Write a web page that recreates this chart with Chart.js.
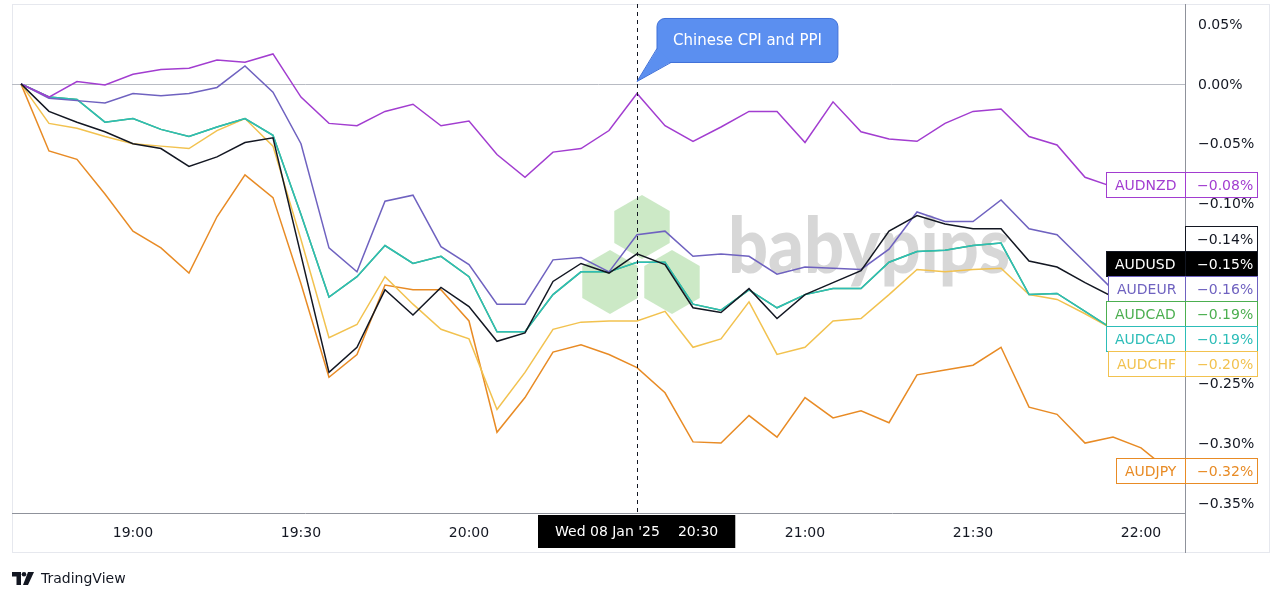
<!DOCTYPE html>
<html>
<head>
<meta charset="utf-8">
<script src="https://cdn.jsdelivr.net/npm/chart.js@4.4.1/dist/chart.umd.min.js"></script>
<style>
  html, body { margin: 0; padding: 0; background: #fff; }
  #wrap { position: relative; width: 1280px; height: 600px; overflow: hidden; }
  #footer { position: absolute; left: 12px; top: 568px; height: 20px; display: flex; align-items: center;
            font: 14px "DejaVu Sans", sans-serif; color: #131722; }
  #footer svg { margin-right: 5px; }
</style>
</head>
<body>
<div id="wrap">
  <canvas id="chart" width="1280" height="600"></canvas>
  <div id="footer">
    <svg width="24" height="13" viewBox="0 0 24 13"><path d="M0 0h9v13h-4.5v-8.5h-4.5z" fill="#131722"/><circle cx="12" cy="2.3" r="2.3" fill="#131722"/><path d="M16 0h6l-6 13h-5z" fill="#131722"/></svg>
    <span>TradingView</span>
  </div>
</div>
<script>
// 5-minute bars, 08 Jan 2025
const times = ['18:40','18:45','18:50','18:55','19:00','19:05','19:10','19:15','19:20','19:25',
  '19:30','19:35','19:40','19:45','19:50','19:55','20:00','20:05','20:10','20:15',
  '20:20','20:25','20:30','20:35','20:40','20:45','20:50','20:55','21:00','21:05',
  '21:10','21:15','21:20','21:25','21:30','21:35','21:40','21:45','21:50','21:55',
  '22:00','22:05'];

// % change since start
const audusd = [0, -0.023, -0.032, -0.040, -0.050, -0.054, -0.069, -0.061, -0.049, -0.045,
  -0.143, -0.241, -0.220, -0.172, -0.193, -0.170, -0.186, -0.215, -0.208, -0.165,
  -0.150, -0.158, -0.142, -0.151, -0.187, -0.191, -0.171, -0.196, -0.176, -0.166,
  -0.156, -0.123, -0.110, -0.117, -0.121, -0.121, -0.148, -0.153, -0.166, -0.178,
  -0.172, -0.150];
const audnzd = [0, -0.011, 0.002, -0.001, 0.008, 0.012, 0.013, 0.020, 0.018, 0.025,
  -0.011, -0.033, -0.035, -0.023, -0.017, -0.035, -0.031, -0.059, -0.078, -0.057,
  -0.054, -0.039, -0.008, -0.035, -0.048, -0.036, -0.023, -0.023, -0.049, -0.015,
  -0.040, -0.046, -0.048, -0.033, -0.023, -0.021, -0.044, -0.051, -0.078, -0.086,
  -0.086, -0.084];
const audeur = [0, -0.012, -0.014, -0.016, -0.008, -0.010, -0.008, -0.003, 0.015, -0.007,
  -0.050, -0.137, -0.157, -0.098, -0.093, -0.136, -0.151, -0.184, -0.184, -0.147,
  -0.145, -0.157, -0.126, -0.123, -0.144, -0.142, -0.144, -0.159, -0.153, -0.154,
  -0.155, -0.138, -0.107, -0.115, -0.115, -0.097, -0.121, -0.126, -0.149, -0.172,
  -0.167, -0.161];
const audcadGreen = [0, -0.011, -0.013, -0.032, -0.029, -0.038, -0.044, -0.036, -0.029, -0.043,
  -0.109, -0.178, -0.161, -0.135, -0.150, -0.144, -0.161, -0.207, -0.207, -0.176,
  -0.157, -0.157, -0.149, -0.149, -0.184, -0.189, -0.172, -0.187, -0.176, -0.171,
  -0.171, -0.149, -0.140, -0.139, -0.135, -0.133, -0.176, -0.175, -0.190, -0.205,
  -0.201, -0.190];
const audcadCyan = [0, -0.011, -0.013, -0.032, -0.029, -0.038, -0.044, -0.036, -0.029, -0.043,
  -0.109, -0.178, -0.161, -0.135, -0.150, -0.144, -0.161, -0.207, -0.207, -0.176,
  -0.157, -0.157, -0.149, -0.149, -0.184, -0.189, -0.172, -0.187, -0.176, -0.171,
  -0.171, -0.149, -0.140, -0.139, -0.135, -0.133, -0.176, -0.175, -0.190, -0.205,
  -0.201, -0.192];
const audchf = [0, -0.033, -0.037, -0.044, -0.050, -0.052, -0.054, -0.039, -0.029, -0.052,
  -0.130, -0.212, -0.201, -0.161, -0.184, -0.205, -0.213, -0.272, -0.241, -0.205,
  -0.199, -0.198, -0.198, -0.190, -0.220, -0.213, -0.182, -0.226, -0.220, -0.198,
  -0.196, -0.176, -0.155, -0.157, -0.155, -0.154, -0.176, -0.180, -0.192, -0.205,
  -0.205, -0.200];
const audjpy = [0, -0.056, -0.063, -0.092, -0.123, -0.137, -0.158, -0.111, -0.076, -0.095,
  -0.167, -0.245, -0.226, -0.168, -0.172, -0.172, -0.198, -0.291, -0.262, -0.224,
  -0.218, -0.226, -0.237, -0.258, -0.299, -0.300, -0.277, -0.295, -0.262, -0.279,
  -0.273, -0.283, -0.243, -0.239, -0.235, -0.220, -0.270, -0.276, -0.300, -0.295,
  -0.304, -0.323];

const yTicks = [0.05, 0, -0.05, -0.10, -0.15, -0.20, -0.25, -0.30, -0.35];

// event marker
const eventTime = '20:30';
const eventValue = 0.002;
const eventText = 'Chinese CPI and PPI';
const crossDate = "Wed 08 Jan '25";
const crossPriceText = '−0.14%';

const FONT = '"DejaVu Sans", sans-serif';

// dataset 0 is drawn on top
const series = [
  { name: 'AUDUSD', data: audusd, color: '#131722', filled: true },
  { name: 'AUDNZD', data: audnzd, color: '#a23dd0' },
  { name: 'AUDEUR', data: audeur, color: '#6f62c0' },
  { name: 'AUDCAD', data: audcadCyan, color: '#2dbdb8' },
  { name: 'AUDCAD', data: audcadGreen, color: '#4caf50' },
  { name: 'AUDCHF', data: audchf, color: '#f2c24f' },
  { name: 'AUDJPY', data: audjpy, color: '#e88b25' }
];

function fmtPct(v) {
  return (v < 0 ? '−' : '') + Math.abs(v).toFixed(2) + '%';
}

function hexagon(c, cx, cy, r) {
  c.beginPath();
  for (let k = 0; k < 6; k++) {
    const ang = Math.PI / 3 * k - Math.PI / 2;
    const px = cx + r * Math.cos(ang), py = cy + r * Math.sin(ang);
    if (k === 0) c.moveTo(px, py); else c.lineTo(px, py);
  }
  c.closePath();
  c.fill();
}

const overlay = {
  id: 'overlay',
  beforeDraw(chart) {
    const c = chart.ctx;
    c.save();
    c.fillStyle = '#fff';
    c.fillRect(0, 0, chart.width, chart.height);
    c.strokeStyle = '#e6e8ee';
    c.lineWidth = 1;
    c.strokeRect(12.5, 4.5, 1257, 548);
    c.restore();
  },
  beforeDatasetsDraw(chart) {
    const c = chart.ctx, a = chart.chartArea, y = chart.scales.y;
    c.save();
    // babypips watermark
    c.fillStyle = 'rgba(120, 198, 105, 0.38)';
    hexagon(c, 642, 227, 32);
    hexagon(c, 610, 282, 32);
    hexagon(c, 672, 282, 32);
    c.fillStyle = 'rgba(150, 150, 150, 0.38)';
    c.font = '900 78px Lato, ' + FONT;
    const w = c.measureText('babypips').width;
    c.translate(728, 273);
    c.scale(282 / w, 1);
    c.textBaseline = 'alphabetic';
    c.fillText('babypips', 0, 0);
    c.restore();
    // zero line
    c.save();
    const y0 = Math.round(y.getPixelForValue(0)) + 0.5;
    c.strokeStyle = '#b8bbc3';
    c.lineWidth = 1;
    c.beginPath();
    c.moveTo(a.left, y0);
    c.lineTo(a.right, y0);
    c.stroke();
    c.restore();
  },
  afterDatasetsDraw(chart) {
    const c = chart.ctx, a = chart.chartArea, x = chart.scales.x;
    const cx = Math.round(x.getPixelForValue(times.indexOf(eventTime))) + 0.5;
    c.save();
    c.strokeStyle = '#131722';
    c.lineWidth = 1;
    c.setLineDash([4, 4]);
    c.beginPath();
    c.moveTo(cx, a.top);
    c.lineTo(cx, a.bottom);
    c.stroke();
    c.restore();
  },
  afterDraw(chart) {
    const c = chart.ctx, a = chart.chartArea, x = chart.scales.x, y = chart.scales.y;
    c.save();
    // axis separator down to bottom frame
    c.strokeStyle = '#8f929b';
    c.lineWidth = 1;
    c.beginPath();
    c.moveTo(a.right + 0.5, a.top);
    c.lineTo(a.right + 0.5, 553);
    c.stroke();

    // callout
    const ex = x.getPixelForValue(times.indexOf(eventTime));
    const ey = y.getPixelForValue(eventValue);
    c.font = '15px ' + FONT;
    const tw = c.measureText(eventText).width;
    const bx = ex + 20, by = ey - 63, bw = tw + 32, bh = 44;
    c.fillStyle = '#5b8ff0';
    c.strokeStyle = '#3f70d8';
    c.beginPath();
    c.roundRect(bx, by, bw, bh, 8);
    c.fill();
    c.stroke();
    c.beginPath();
    c.moveTo(ex, ey);
    c.lineTo(bx + 0.5, by + bh - 14);
    c.lineTo(bx + 14, by + bh - 0.5);
    c.closePath();
    c.fill();
    c.beginPath();
    c.moveTo(bx, by + bh - 14);
    c.lineTo(ex, ey);
    c.lineTo(bx + 14, by + bh);
    c.stroke();
    c.fillStyle = '#fff';
    c.textBaseline = 'middle';
    c.textAlign = 'center';
    c.fillText(eventText, bx + bw / 2, by + bh / 2 + 1);

    // crosshair time label
    c.font = '14px ' + FONT;
    const timeText = times.indexOf(eventTime) >= 0 ? eventTime : '';
    const w1 = c.measureText(crossDate).width, w2 = c.measureText(timeText).width;
    const gap = 18, pad = 17;
    const tbw = w1 + gap + w2 + pad * 2;
    const tbx = Math.round(ex - tbw / 2);
    c.fillStyle = '#000';
    c.fillRect(tbx, a.bottom + 2, tbw, 33);
    c.fillStyle = '#fff';
    c.textAlign = 'left';
    c.fillText(crossDate, tbx + pad, a.bottom + 19);
    c.fillText(timeText, tbx + pad + w1 + gap, a.bottom + 19);

    // last value labels on the right
    const h = 25, valW = 73;
    const items = series.map(s => ({ s, v: s.data[s.data.length - 1], py: y.getPixelForValue(s.data[s.data.length - 1]) }));
    items.sort((p, q) => p.py - q.py);
    let prev = -Infinity;
    items.forEach(it => {
      let cy = it.py;
      if (cy < prev + h) cy = prev + h;
      it.cy = cy;
      prev = cy;
    });
    c.font = '14px ' + FONT;
    c.textBaseline = 'middle';
    items.forEach(it => {
      const s = it.s;
      const nw = Math.round(c.measureText(s.name).width + 18);
      const top = Math.round(it.cy - h / 2) + 0.5;
      const l = a.right - nw;
      c.fillStyle = s.filled ? '#000' : '#fff';
      c.fillRect(l, top, nw + valW, h);
      c.strokeStyle = s.color;
      c.lineWidth = 1;
      c.strokeRect(l + 0.5, top, nw + valW - 1, h);
      c.beginPath();
      c.moveTo(a.right + 0.5, top);
      c.lineTo(a.right + 0.5, top + h);
      c.stroke();
      c.fillStyle = s.filled ? '#fff' : s.color;
      c.textAlign = 'left';
      c.fillText(s.name, l + 9, top + h / 2 + 1);
      c.fillText(fmtPct(it.v), a.right + 12, top + h / 2 + 1);
      if (s.filled) {
        // price label of the crosshair just above AUDUSD
        const t2 = top - h;
        c.fillStyle = '#fff';
        c.fillRect(a.right, t2, valW, h);
        c.strokeStyle = '#131722';
        c.strokeRect(a.right + 0.5, t2, valW - 1, h);
        c.fillStyle = '#131722';
        c.fillText(crossPriceText, a.right + 12, t2 + h / 2 + 1);
      }
    });
    c.restore();
  }
};

const ctx = document.getElementById('chart');
new Chart(ctx, {
  type: 'line',
  data: {
    datasets: series.map(s => ({
      label: s.name,
      data: s.data.map((v, i) => ({ x: i, y: v })),
      borderColor: s.color,
      backgroundColor: s.color,
      borderWidth: 1.5,
      pointRadius: 0,
      tension: 0
    }))
  },
  options: {
    responsive: false,
    animation: false,
    layout: { padding: { left: 12, top: 4, right: 10, bottom: 47 } },
    plugins: { legend: { display: false }, tooltip: { enabled: false } },
    scales: {
      x: {
        type: 'linear',
        min: -0.32,
        max: 41.57,
        grid: { display: false, drawTicks: false },
        border: { display: true, color: '#8f929b' },
        afterBuildTicks(scale) {
          scale.ticks = times
            .map((t, i) => ({ t, i }))
            .filter(o => o.t.endsWith(':00') || o.t.endsWith(':30'))
            .map(o => ({ value: o.i }));
        },
        afterFit(scale) { scale.height = 40; scale.paddingLeft = 0; scale.paddingRight = 0; },
        ticks: {
          padding: 12,
          maxRotation: 0,
          autoSkip: false,
          color: '#131722',
          font: { family: FONT, size: 14 },
          callback: v => times[v]
        }
      },
      y: {
        position: 'right',
        min: -0.3584,
        max: 0.0667,
        grid: { display: false, drawTicks: false },
        border: { display: true, color: '#8f929b' },
        afterBuildTicks(scale) {
          scale.ticks = yTicks.map(v => ({ value: v }));
        },
        afterFit(scale) { scale.width = 85; scale.paddingTop = 0; scale.paddingBottom = 0; },
        ticks: {
          padding: 13,
          labelOffset: 1,
          color: '#131722',
          font: { family: FONT, size: 14 },
          callback: v => fmtPct(v)
        }
      }
    }
  },
  plugins: [overlay]
});
</script>
</body>
</html>
